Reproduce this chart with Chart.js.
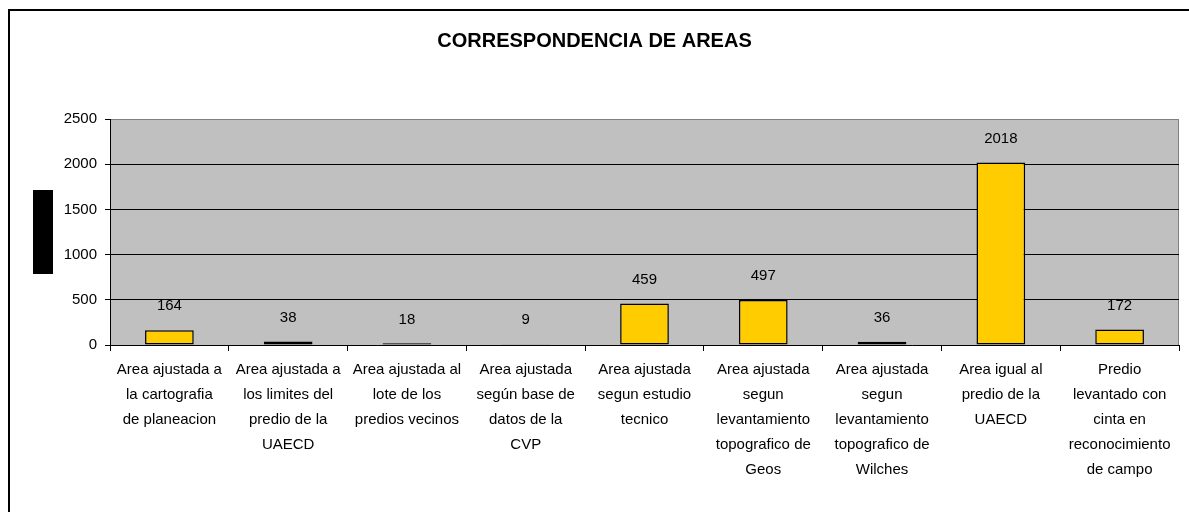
<!DOCTYPE html>
<html>
<head>
<meta charset="utf-8">
<script src="https://cdn.jsdelivr.net/npm/chart.js@4/dist/chart.umd.min.js"></script>
<style>
  html, body { margin: 0; padding: 0; background: #fff; overflow: hidden; }
  #frame { position: absolute; left: 8px; top: 9px; width: 1300px; height: 600px; border: 2px solid #000; }
  #myChart { position: absolute; left: 10px; top: 11px; }
</style>
</head>
<body>
<div id="frame"></div>
<canvas id="myChart" width="1186" height="501"></canvas>
<script>
// data for chart
const categories = [
  ["Area ajustada a", "la cartografia", "de planeacion"],
  ["Area ajustada a", "los limites del", "predio de la", "UAECD"],
  ["Area ajustada al", "lote de los", "predios vecinos"],
  ["Area ajustada", "según base de", "datos de la", "CVP"],
  ["Area ajustada", "segun estudio", "tecnico"],
  ["Area ajustada", "segun", "levantamiento", "topografico de", "Geos"],
  ["Area ajustada", "segun", "levantamiento", "topografico de", "Wilches"],
  ["Area igual al", "predio de la", "UAECD"],
  ["Predio", "levantado con", "cinta en", "reconocimiento", "de campo"],
];
const values = [164, 38, 18, 9, 459, 497, 36, 2018, 172];
const yTicks = [0, 500, 1000, 1500, 2000, 2500];

const FONT = "'Liberation Sans', Arial, sans-serif";

// gray plot area + its border, and the black box left of the axis
const plotBack = {
  id: "plotBack",
  beforeDraw(chart) {
    const { ctx, chartArea: a } = chart;
    ctx.save();
    ctx.fillStyle = "#c0c0c0";
    ctx.fillRect(a.left, a.top, a.right - a.left, a.bottom - a.top);
    ctx.strokeStyle = "#808080";
    ctx.lineWidth = 1;
    ctx.strokeRect(a.left + 0.5, a.top + 0.5, a.right - a.left - 1, a.bottom - a.top);
    ctx.fillStyle = "#000";
    const mid = (a.top + a.bottom) / 2;
    ctx.fillRect(a.left - 77, mid - 42, 20, 84);
    ctx.restore();
  },
};

// value labels above bars
const barLabels = {
  id: "barLabels",
  afterDatasetsDraw(chart) {
    const { ctx } = chart;
    const meta = chart.getDatasetMeta(0);
    ctx.save();
    ctx.font = "15px " + FONT;
    ctx.fillStyle = "#000";
    ctx.textAlign = "center";
    ctx.textBaseline = "middle";
    meta.data.forEach((bar, i) => {
      ctx.fillText(String(values[i]), bar.x, bar.y - 24);
    });
    ctx.restore();
  },
};

new Chart("myChart", {
  type: "bar",
  data: {
    labels: categories,
    datasets: [
      {
        data: values,
        backgroundColor: "#ffcc00",
        borderColor: "#000",
        borderWidth: 1.5,
        borderSkipped: false,
        categoryPercentage: 1,
        barPercentage: 0.41,
      },
    ],
  },
  options: {
    responsive: false,
    animation: false,
    layout: { padding: { left: 0, right: 17, top: 0, bottom: 0 } },
    plugins: {
      legend: { display: false },
      tooltip: { enabled: false },
      title: {
        display: true,
        text: "CORRESPONDENCIA DE AREAS",
        color: "#000",
        font: { family: FONT, size: 20, weight: "bold", lineHeight: 1.2 },
        padding: { top: 18, bottom: 66 },
      },
    },
    scales: {
      x: {
        grid: {
          offset: true,
          drawOnChartArea: false,
          tickLength: 6,
          tickColor: "#000",
        },
        border: { color: "#000", width: 1 },
        ticks: {
          color: "#000",
          font: { family: FONT, size: 15, lineHeight: "25px" },
          padding: 6,
          maxRotation: 0,
          autoSkip: false,
        },
        afterFit(s) { s.height = 167; },
      },
      y: {
        min: 0,
        max: 2500,
        afterBuildTicks(s) { s.ticks = yTicks.map(v => ({ value: v })); },
        grid: {
          color: (c) => (c.tick.value === 0 ? "rgba(0,0,0,0)" : c.tick.value === 2500 ? "#808080" : "#000"),
          tickColor: "#000",
          tickLength: 5,
        },
        border: { color: "#000", width: 1 },
        ticks: {
          color: "#000",
          font: { family: FONT, size: 15 },
          padding: 8,
          callback: (v) => String(v),
        },
        afterFit(s) { s.width = 100; },
      },
    },
  },
  plugins: [plotBack, barLabels],
});
</script>
</body>
</html>
